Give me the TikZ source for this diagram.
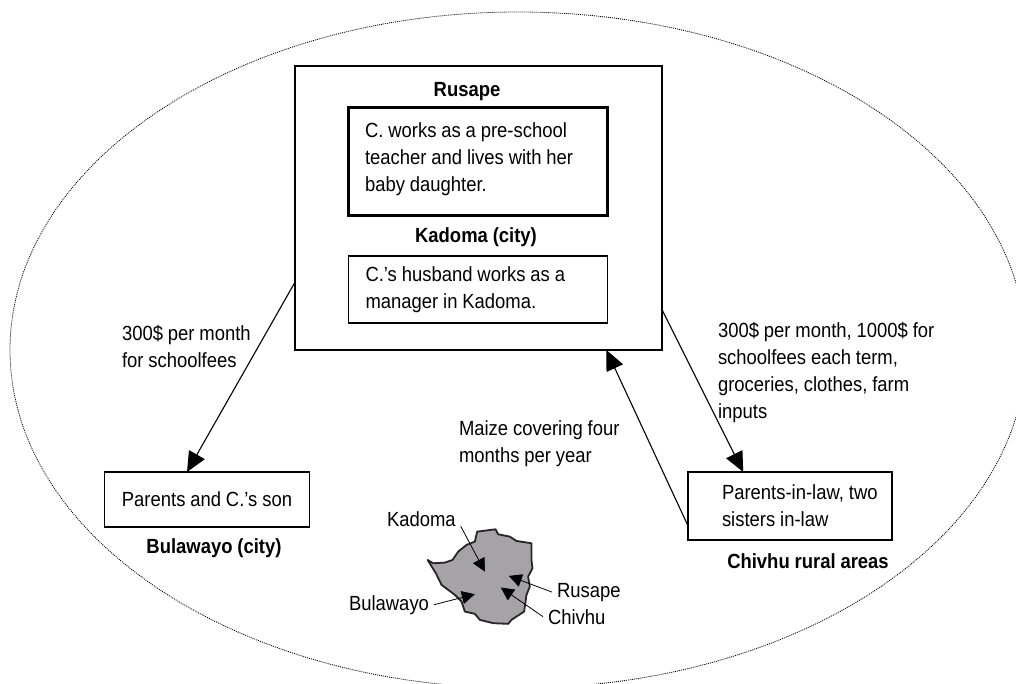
\documentclass[tikz,border=0pt]{standalone}
\usepackage{fontspec}
\setmainfont[FakeStretch=0.9, WordSpace=0.95]{Liberation Sans}
\usetikzlibrary{arrows.meta}
\definecolor{mapgray}{RGB}{165,163,166}
\begin{document}
\begin{tikzpicture}[x=1pt, y=-1pt,
		every node/.style={font=\fontsize{20.5}{27}\selectfont, outer sep=0pt},
		place/.style={draw, line width=1.1pt, inner xsep=17pt, inner ysep=0pt, align=flush left},
		home/.style={place, line width=3pt},
		town/.style={anchor=base, inner sep=0pt, font=\fontsize{20.5}{27}\selectfont\bfseries},
		note/.style={anchor=base west, inner sep=0pt, align=left},
		map label/.style={anchor=base west, inner xsep=5pt, inner ysep=0pt},
		flow/.style={-{Triangle[length=20pt, width=18pt]}, line width=1.1pt},
		map flow/.style={-{Triangle[length=13pt, width=13pt]}, line width=0.8pt}]
			\useasboundingbox (0,0) rectangle (1016,683);
			\draw[line width=0.8pt, dash pattern=on 1pt off 1pt] (518,350) ellipse (508pt and 338pt);
			% boxes
			\node[draw, line width=1.1pt, minimum width=367pt, minimum height=284pt] (main) at (478.5,208) {};
			\node[town] (rusape) at (467,96) {Rusape};
			\node[home, text width=225pt, text depth=62pt, minimum width=259pt, minimum height=108pt] (teacher) at (477.5,161) {C. works as a pre-school\\teacher and lives with her\\baby daughter.};
			\node[town] (kadoma) at (476,242) {Kadoma (city)};
			\node[place, text width=225pt, minimum width=258pt, minimum height=67pt] (husband) at (478,289.5) {C.'s husband works as a\\manager in Kadoma.};
			\node[place, minimum width=204pt, minimum height=55pt] (parents) at (207,499.5) {Parents and C.'s son};
			\node[town] (bulawayo) at (214,553) {Bulawayo (city)};
			\node[place, inner xsep=8pt, text width=188pt, minimum width=204pt, minimum height=68pt] (inlaws) at (790,506) {\hspace*{26pt}Parents-in-law, two\\\hspace*{26pt}sisters in-law};
			\node[town] (chivhu) at (808,568) {Chivhu rural areas};
			% flows
			\draw[flow] (main.202.2) -- (parents.126);
			\draw[flow] (main.-29) -- (inlaws.144.7);
			\draw[flow] (inlaws.191.6) -- (main.-48);
			\node[note] (son fees) at (122,367) {300\$ per month\\for schoolfees};
			\node[note] (farm fees) at (718,418) {300\$ per month, 1000\$ for\\schoolfees each term,\\groceries, clothes, farm\\inputs};
			\node[note] (maize) at (459,462) {Maize covering four\\months per year};
			% map
			\begin{scope}[shift={(330,480)}, x=0.333pt, y=-0.333pt]
				\draw[fill=mapgray, draw=black!85, line width=1.8pt, line join=round]
					(293,240) -- (310,250) -- (345,248) -- (368,240) -- (385,215) -- (410,195) -- (435,185) -- (442,155)
					-- (497,148) -- (505,163) -- (540,170) -- (560,183) -- (605,190) -- (605,240) -- (608,265) -- (595,290)
					-- (600,320) -- (590,345) -- (583,395) -- (545,420) -- (535,432) -- (490,430) -- (450,420) -- (435,402)
					-- (405,395) -- (395,365) -- (375,345) -- (335,315) -- (318,280) -- cycle;
				\coordinate (kadoma tip) at (465,275);
				\coordinate (rusape tip) at (537,288);
				\coordinate (chivhu tip) at (513,323);
				\coordinate (bulawayo tip) at (435,343);
			\end{scope}
			\node[map label] (kadoma label) at (382,526) {Kadoma};
			\node[map label] (rusape label) at (552,597) {Rusape};
			\node[map label] (chivhu label) at (543,624) {Chivhu};
			\node[map label] (bulawayo label) at (344,610) {Bulawayo};
			\draw[map flow] (kadoma label.south east) -- (kadoma tip);
			\draw[map flow] (rusape label.west) -- (rusape tip);
			\draw[map flow] (chivhu label.west) -- (chivhu tip);
			\draw[map flow] (bulawayo label.east) -- (bulawayo tip);
		\end{tikzpicture}
\end{document}
